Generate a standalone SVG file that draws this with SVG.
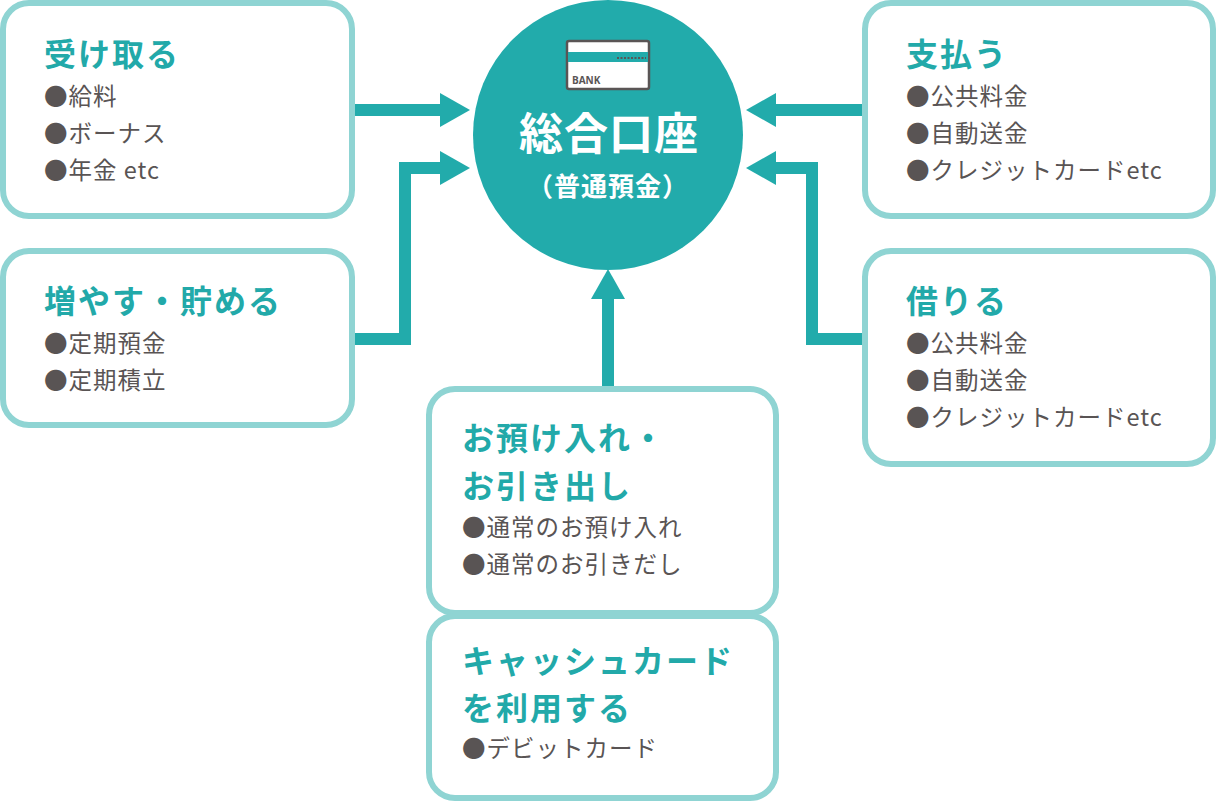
<svg xmlns="http://www.w3.org/2000/svg" width="1217" height="801" viewBox="0 0 1217 801">
<style>
.box{fill:#fff;stroke:#8fd4d3;stroke-width:6}
.t{font-family:"Noto Sans CJK JP",sans-serif;font-weight:700;font-size:32px;letter-spacing:2px;fill:#22a9a9}
.b{font-family:"Noto Sans CJK JP",sans-serif;font-size:23.5px;letter-spacing:1px;fill:#595454}
.ln{fill:none;stroke:#22abab;stroke-width:12}
.hd{fill:#22abab}
</style>
<rect width="1217" height="801" fill="#fff"/>
<g id="connectors">
<path class="ln" d="M354 110H442"/><polygon class="hd" points="440,93 470,110 440,127"/>
<path class="ln" d="M354 339H405V168H442"/><polygon class="hd" points="440,151 470,168 440,185"/>
<path class="ln" d="M862 110H774"/><polygon class="hd" points="776,93 746,110 776,127"/>
<path class="ln" d="M862 339H812V168H774"/><polygon class="hd" points="776,151 746,168 776,185"/>
<path class="ln" d="M608 388V297"/><polygon class="hd" points="591,299 608,269 625,299"/>
</g>
<g id="center">
<circle cx="608" cy="135" r="135" fill="#22abab"/>
<rect x="567" y="41" width="82" height="48" rx="2" fill="#fff" stroke="#5a5555" stroke-width="2.5"/>
<rect x="568" y="52" width="80" height="10" fill="#22abab"/>
<path d="M617 58H646" stroke="#5a5555" stroke-width="2" stroke-dasharray="2 1.5"/>
<text x="572" y="84" font-family="Open Sans,sans-serif" font-weight="700" font-size="10" fill="#5a5555">BANK</text>
<text x="609" y="150" text-anchor="middle" font-family="Noto Sans CJK JP,sans-serif" font-weight="700" font-size="44" letter-spacing="1" fill="#fff">総合口座</text>
<text x="608" y="196" text-anchor="middle" font-family="Noto Sans CJK JP,sans-serif" font-weight="700" font-size="26" letter-spacing="1" fill="#fff">（普通預金）</text>
</g>
<g id="receive"><rect class="box" x="3" y="3" width="349" height="213" rx="26"/>
<text class="t" x="44" y="66">受け取る</text>
<text class="b" x="44" y="105">●給料</text><text class="b" x="44" y="142">●ボーナス</text><text class="b" x="44" y="179">●年金 etc</text></g>
<g id="save"><rect class="box" x="3" y="251" width="349" height="174" rx="26"/>
<text class="t" x="44" y="313">増やす・貯める</text>
<text class="b" x="44" y="352">●定期預金</text><text class="b" x="44" y="389">●定期積立</text></g>
<g id="pay"><rect class="box" x="865" y="3" width="348" height="213" rx="26"/>
<text class="t" x="906" y="66">支払う</text>
<text class="b" x="906" y="105">●公共料金</text><text class="b" x="906" y="142">●自動送金</text><text class="b" x="906" y="179">●クレジットカードetc</text></g>
<g id="borrow"><rect class="box" x="865" y="251" width="348" height="213" rx="26"/>
<text class="t" x="906" y="313">借りる</text>
<text class="b" x="906" y="352">●公共料金</text><text class="b" x="906" y="389">●自動送金</text><text class="b" x="906" y="426">●クレジットカードetc</text></g>
<g id="deposit"><rect class="box" x="429" y="389" width="347" height="224" rx="26"/>
<text class="t" x="462" y="450">お預け入れ・</text><text class="t" x="462" y="498">お引き出し</text>
<text class="b" x="462" y="536">●通常のお預け入れ</text><text class="b" x="462" y="573">●通常のお引きだし</text></g>
<g id="card"><rect class="box" x="429" y="616" width="347" height="182" rx="26"/>
<text class="t" x="462" y="673">キャッシュカード</text><text class="t" x="462" y="720">を利用する</text>
<text class="b" x="462" y="757">●デビットカード</text></g>
</svg>
